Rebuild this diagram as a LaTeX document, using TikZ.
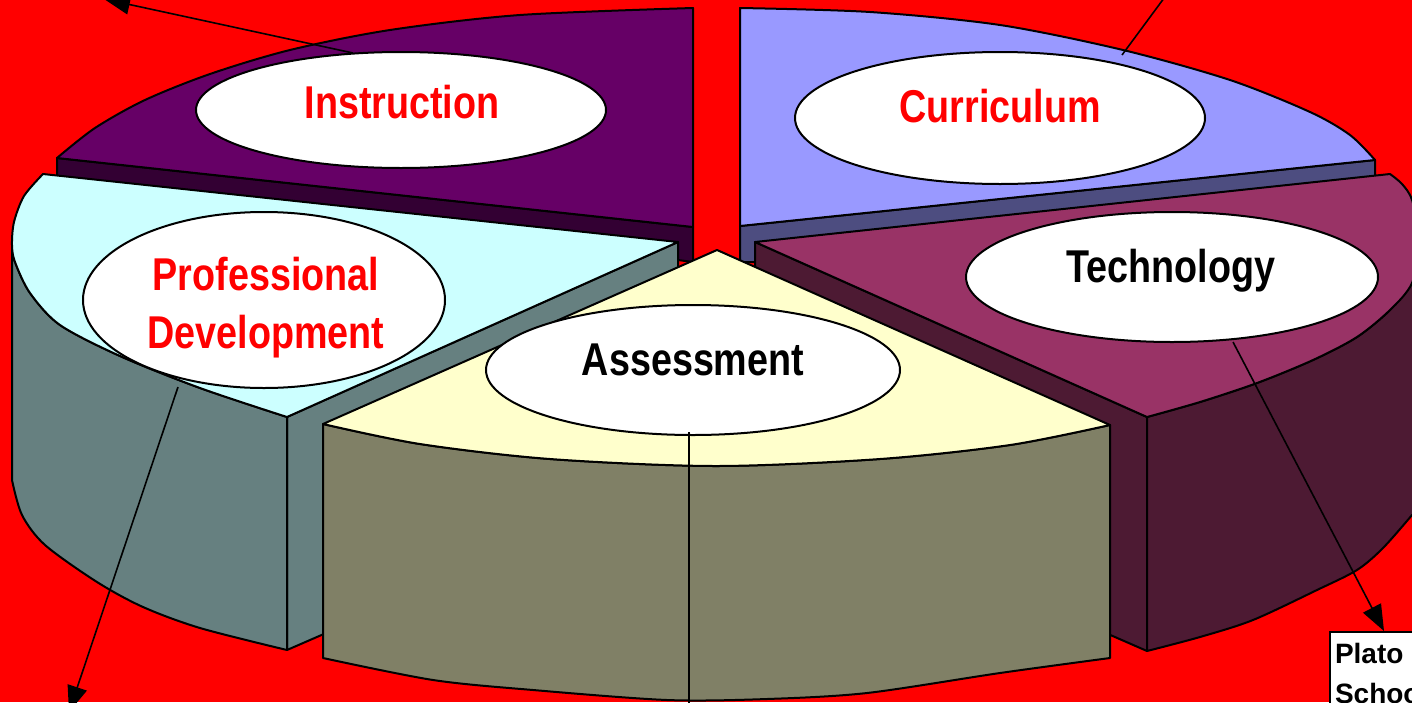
\documentclass[tikz,border=0pt]{standalone}
\usepackage{fontspec}
\newfontfamily\lblfont[FakeStretch=0.82]{Liberation Sans}
\newfontfamily\boxfont{Liberation Sans}
\usetikzlibrary{shapes.geometric,arrows.meta}
\definecolor{bgred}{HTML}{FF0000}
\definecolor{instTop}{HTML}{660066}
\definecolor{instSide}{HTML}{330033}
\definecolor{curTop}{HTML}{9999FF}
\definecolor{curSide}{HTML}{4D4D80}
\definecolor{techTop}{HTML}{993366}
\definecolor{techSide}{HTML}{4D1A33}
\definecolor{pdTop}{HTML}{CCFFFF}
\definecolor{pdSide}{HTML}{668080}
\definecolor{asTop}{HTML}{FFFFCC}
\definecolor{asSide}{HTML}{808066}
\begin{document}
\begin{tikzpicture}[x=0.5pt,y=-0.5pt,
  face/.style={draw=black, line width=1pt, line join=round},
  oval/.style={ellipse, draw=black, fill=white, line width=1pt, inner sep=0pt},
  lbl/.style={font=\lblfont\bfseries\fontsize{23pt}{29pt}\selectfont, anchor=base, inner sep=0pt},
  conn/.style={draw=black, line width=0.8pt},
  arrowtip/.style={-{Triangle[length=13pt,width=10pt]}}]
\useasboundingbox (0,0) rectangle (1412,702);
\clip (0,0) rectangle (1412,702);
\fill[bgred] (0,0) rectangle (1412,702);

% Instruction slice
\draw[face, fill=instSide] (57,158) -- (693,227) -- (693,262) -- (57,178) -- cycle;
\draw[face, fill=instTop] (693,227) -- plot[smooth, tension=0.5] coordinates {(57,158) (95,128) (145,100) (210,74) (290,50) (390,30) (520,15) (693,8)} -- cycle;

% Curriculum slice
\draw[face, fill=curSide] (740,226) -- (1375,160) -- (1375,177) -- (755,243) -- (755,262) -- (740,262) -- cycle;
\draw[face, fill=curTop] (740,226) -- plot[smooth, tension=0.5] coordinates {(740,8) (870,12) (1000,25) (1123,50) (1230,80) (1310,112) (1350,135) (1375,160)} -- cycle;

% Technology slice
\draw[face, fill=techSide] (755,242) -- (1147,417) -- (1147,651) -- (755,480) -- cycle;
\draw[face, fill=techSide] plot[smooth, tension=0.5] coordinates {(1147,417) (1200,402) (1257,383) (1313,360) (1357,337) (1390,310) (1412,283)} -- (1430,283) -- (1430,505) -- plot[smooth, tension=0.5] coordinates {(1412,515) (1383,548) (1357,570) (1317,590) (1253,620) (1200,637) (1147,651)} -- cycle;
\draw[face, fill=techTop] (755,242) -- plot[smooth, tension=0.5] coordinates {(1390,174) (1402,184) (1412,200) (1420,240) (1412,283) (1390,310) (1357,337) (1313,360) (1257,383) (1200,402) (1147,417)} -- cycle;

% Professional Development slice
\draw[face, fill=pdSide] (287,417) -- (678,242) -- (678,480) -- (287,650) -- cycle;
\draw[face, fill=pdSide] plot[smooth, tension=0.5] coordinates {(287,417) (200,388) (120,356) (60,325) (30,293) (15,262) (12,245)} -- (12,480) -- plot[smooth, tension=0.5] coordinates {(12,480) (22,515) (45,545) (97,582) (143,607) (200,628) (287,650)} -- cycle;
\draw[face, fill=pdTop] (43,174) -- (678,242) -- plot[smooth, tension=0.5] coordinates {(287,417) (200,388) (120,356) (60,325) (30,293) (15,262) (12,245) (14,222) (24,196) (43,174)} -- cycle;

% Assessment slice
\draw[face, fill=asSide] plot[smooth, tension=0.5] coordinates {(323,424) (420,444) (550,459) (716,466) (880,459) (1010,445) (1110,425)} -- (1110,658) -- plot[smooth, tension=0.5] coordinates {(1110,658) (1000,673) (867,693) (767,699) (667,700) (533,690) (433,680) (323,658)} -- cycle;
\draw[face, fill=asTop] (717,250) -- plot[smooth, tension=0.5] coordinates {(323,424) (420,444) (550,459) (716,466) (880,459) (1010,445) (1110,425)} -- cycle;

% Ellipses
\node[oval, minimum width=205pt, minimum height=58pt] (instr) at (401,110) {};
\node[oval, minimum width=205pt, minimum height=66pt] (curr) at (1000,118) {};
\node[oval, minimum width=181pt, minimum height=88pt] (prof) at (264,300) {};
\node[oval, minimum width=206pt, minimum height=65pt] (tech) at (1172,277) {};
\node[oval, minimum width=207pt, minimum height=65pt] (assess) at (693,370) {};

% Labels
\node[lbl, text=red] (instrT) at (402,118) {Instruction};
\node[lbl, text=red] (currT) at (1000,122) {Curriculum};
\node[lbl, text=red] (profT1) at (266,290) {Professional};
\node[lbl, text=red] (profT2) at (266,348) {Development};
\node[lbl, text=black] (techT) at (1171,282) {Technology};
\node[lbl, text=black] (assessT) at (693,375) {Assessment};

% Plato School box
\node[draw=black, fill=white, line width=1pt, anchor=north west, align=left,
      inner xsep=2.5pt, inner ysep=5.5pt, text width=60pt,
      font=\boxfont\bfseries\fontsize{14pt}{20pt}\selectfont] (plato) at (1329,631) {Plato\\School};

% Connectors
\coordinate (c1s) at (353,53);
\coordinate (c1e) at (104,-1);
\coordinate (c2s) at (1122,55);
\coordinate (c2e) at (1170,-10);
\coordinate (c3s) at (1233,342);
\coordinate (c3e) at (1384,631);
\coordinate (c4s) at (178,387);
\coordinate (c4e) at (69,712);
\coordinate (c5s) at (689,432);
\coordinate (c5e) at (689,712);
\draw[conn, arrowtip] (c1s) -- (c1e);
\draw[conn] (c2s) -- (c2e);
\draw[conn, arrowtip] (c3s) -- (c3e);
\draw[conn, arrowtip] (c4s) -- (c4e);
\draw[conn] (c5s) -- (c5e);
\end{tikzpicture}
\end{document}
